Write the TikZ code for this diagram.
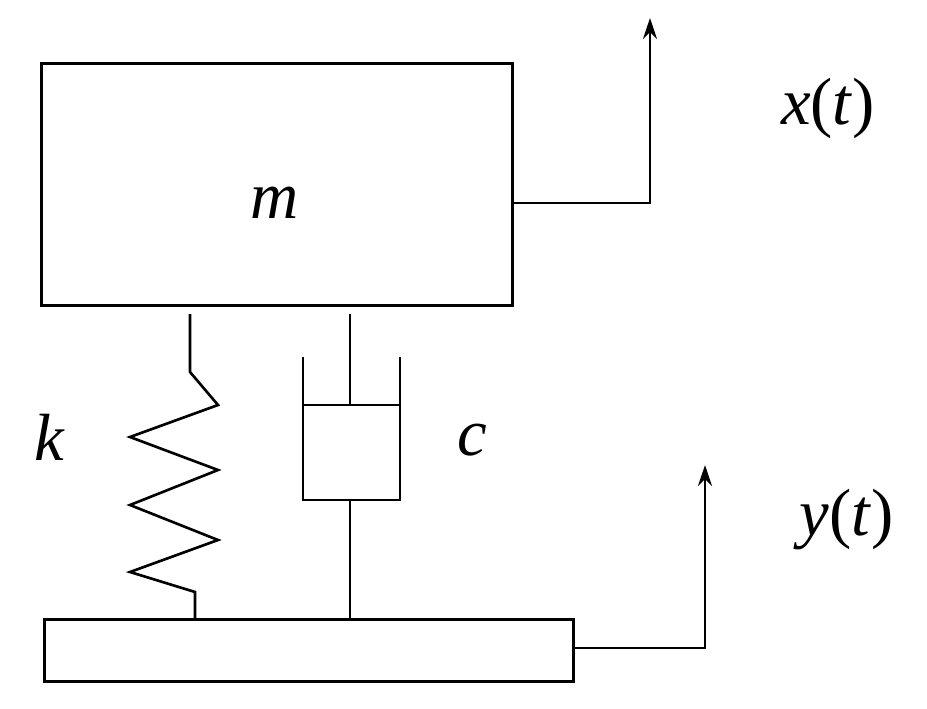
\documentclass[tikz,border=0pt]{standalone}
\usepackage{fontspec}
\setmainfont{Liberation Serif}
\usetikzlibrary{arrows.meta}
\begin{document}
\begin{tikzpicture}[x=0.02cm,y=-0.02cm,
  ln/.style={line width=1.5pt,black},
  lbl/.style={font=\fontsize{38}{44}\selectfont},
  arr/.style={ln,-{Stealth[length=12pt,width=8pt]}}]
\useasboundingbox (0,0) rectangle (927,708);
\node[draw,line width=1.5pt,minimum width=471*0.02cm,minimum height=242*0.02cm,anchor=north west,inner sep=0] (mass) at (40,62) {};
\node[lbl] (m) at (275,203) {\textit{m}};
\node[draw,line width=1.5pt,minimum width=529*0.02cm,minimum height=62*0.02cm,anchor=north west,inner sep=0] (base) at (43,618) {};
\coordinate (xa) at (511,203); \coordinate (xt) at (650,18);
\draw[arr] (xa) -- (650,203) -- (xt);
\node[lbl] (xl) at (828,108) {\textit{x}(\textit{t})};
\coordinate (ya) at (572,648); \coordinate (yt) at (705,465);
\draw[arr] (ya) -- (705,648) -- (yt);
\node[lbl] (yl) at (847,520) {\textit{y}(\textit{t})};
% spring
\draw[ln,line join=miter] (190,314) -- (190,372) -- (218,405) -- (130,437) -- (218,470) -- (130,505) -- (218,540) -- (130,572) -- (195,592) -- (195,618);
\node[lbl] (k) at (50,437) {\textit{k}};
% damper
\draw[ln] (350,314) -- (350,405);
\draw[ln] (303,357) -- (303,500) -- (400,500) -- (400,357);
\draw[ln] (303,405) -- (400,405);
\draw[ln] (350,500) -- (350,618);
\node[lbl] (c) at (472,440) {\textit{c}};
\end{tikzpicture}
\end{document}
